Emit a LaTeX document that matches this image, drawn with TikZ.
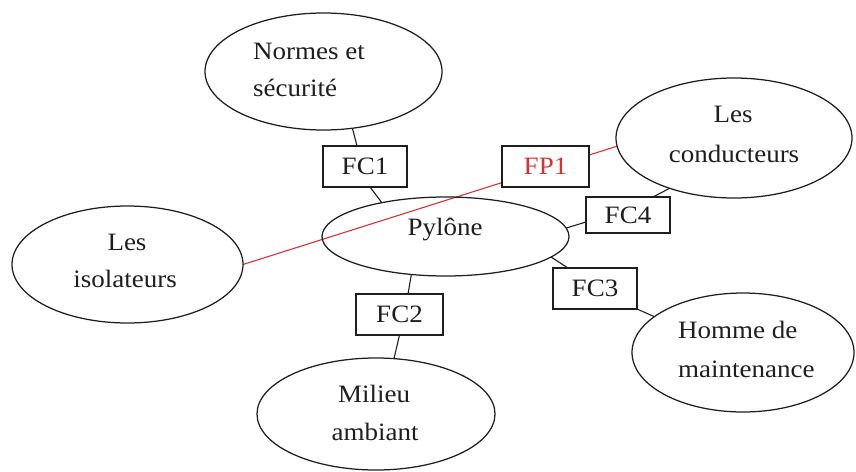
\documentclass[tikz,border=0pt]{standalone}
\usepackage{fontspec}
\setmainfont{Liberation Serif}[FakeStretch=1.08]
\usetikzlibrary{shapes.geometric}
\pgfdeclarelayer{links}
\pgfsetlayers{links,main}
\definecolor{fpred}{RGB}{214,52,52}
\definecolor{ink}{RGB}{30,30,30}
\begin{document}
\begin{tikzpicture}[x=1pt,y=-1pt,
  bubble/.style={draw=ink, ellipse, line width=1.25pt, inner sep=0pt, outer sep=0pt},
  fbox/.style={draw=ink, rectangle, fill=white, line width=1.2pt, inner sep=0pt, outer sep=0pt,
    minimum height=41pt, font=\fontsize{25}{30}\selectfont, text=ink},
  lbl/.style={inner sep=0pt, font=\fontsize{25}{30}\selectfont, text=ink},
  link/.style={draw=ink, line width=1.1pt},
]
\useasboundingbox (0,0) rectangle (856,471);

% ellipses
\node[bubble, minimum width=237pt, minimum height=117pt] (normes) at (323.5,71.5) {};
\node[bubble, minimum width=236pt, minimum height=120pt] (cond)   at (734,138) {};
\node[bubble, minimum width=231pt, minimum height=117pt] (iso)    at (127.5,264.5) {};
\node[bubble, minimum width=247pt, minimum height=79pt]  (pyl)    at (445.5,236.5) {};
\node[bubble, minimum width=222pt, minimum height=119pt] (homme)  at (743,352.5) {};
\node[bubble, minimum width=238pt, minimum height=112pt] (milieu) at (376,414) {};

% texts of the ellipses
\node[lbl, anchor=base west] (normes-a) at (253,59) {Normes et};
\node[lbl, anchor=base west] (normes-b) at (253,96) {sécurité};
\node[lbl, anchor=base] (cond-a) at (733,122) {Les};
\node[lbl, anchor=base] (cond-b) at (734,162) {conducteurs};
\node[lbl, anchor=base] (iso-a) at (127,250) {Les};
\node[lbl, anchor=base] (iso-b) at (125,287) {isolateurs};
\node[lbl, anchor=base] (pyl-a) at (445,235) {Pylône};
\node[lbl, anchor=base west] (homme-a) at (678,338) {Homme de};
\node[lbl, anchor=base west] (homme-b) at (678,377) {maintenance};
\node[lbl, anchor=base] (milieu-a) at (374,402) {Milieu};
\node[lbl, anchor=base] (milieu-b) at (375,440) {ambiant};

% function boxes
\node[fbox, minimum width=84pt] (fc1) at (365,166.5) {FC1};
\node[fbox, minimum width=87pt, text=fpred] (fp1) at (545.5,166.5) {FP1};
\node[fbox, minimum width=84pt, minimum height=36pt] (fc4) at (628,215) {FC4};
\node[fbox, minimum width=84pt] (fc3) at (595,288.5) {FC3};
\node[fbox, minimum width=87pt] (fc2) at (399.5,314.5) {FC2};

% connectors
\begin{pgfonlayer}{links}
\draw[link, draw=fpred] (iso.east) -- (cond.-176);
\draw[link] (normes.-63) -- ([xshift=-8pt]fc1.north);
\draw[link] ([xshift=5pt]fc1.south) -- (pyl.152);
\draw[link] (pyl.-132) -- ([xshift=8.5pt]fc2.north);
\draw[link] (fc2.south) -- (milieu.72);
\draw[link] (pyl.-11) -- ([xshift=-27pt]fc3.north);
\draw[link] (fc3.south east) -- (homme.158);
\draw[link] (pyl.4) -- ([yshift=-7pt]fc4.west);
\draw[link] ([xshift=25pt]fc4.north) -- (cond.-142);
\end{pgfonlayer}
\end{tikzpicture}
\end{document}
